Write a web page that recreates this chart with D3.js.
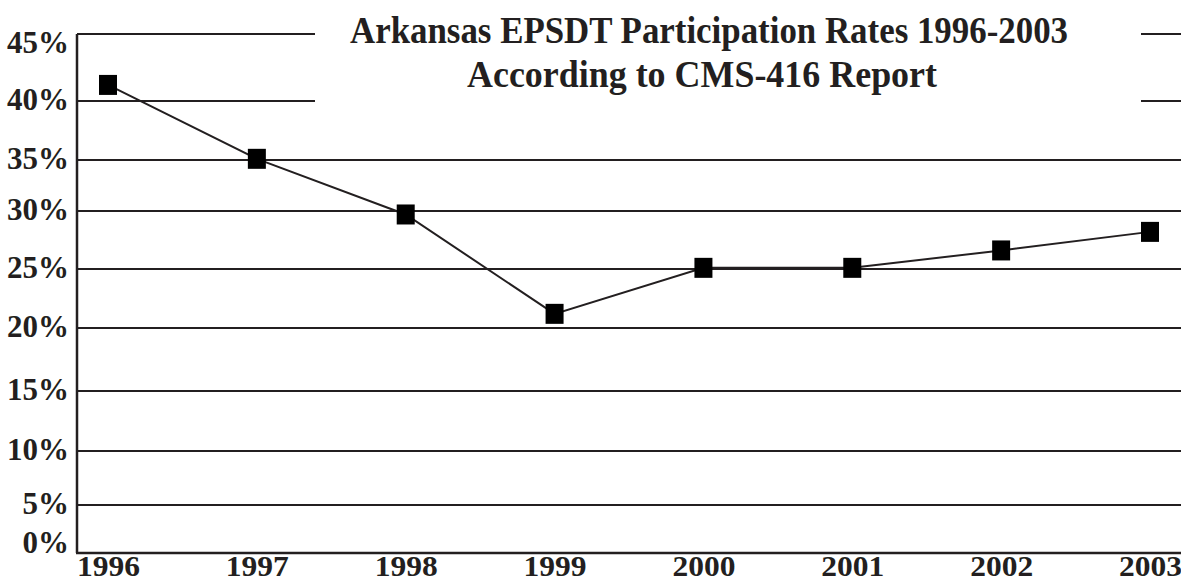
<!DOCTYPE html>
<html>
<head>
<meta charset="utf-8">
<script src="https://cdn.jsdelivr.net/npm/d3@7"></script>
<style>
  html, body { margin: 0; padding: 0; background: #fff; }
  svg { display: block; }
  text { font-family: "Liberation Serif", "Times New Roman", serif; font-weight: bold; fill: #231f20; }
</style>
</head>
<body>
<svg id="chart" width="1181" height="582"></svg>
<script>
// Arkansas EPSDT participation rates (percent), CMS-416
const years = ["1996", "1997", "1998", "1999", "2000", "2001", "2002", "2003"];
const rates = [41.2, 35.1, 29.7, 21.2, 25.1, 25.1, 26.6, 28.2];
const yTicks = [0, 5, 10, 15, 20, 25, 30, 35, 40, 45];
const titleLines = ["Arkansas EPSDT Participation Rates 1996-2003", "According to CMS-416 Report"];

// Layout: the printed grid is spaced by hand, so the y scale is piecewise
// linear through the rule positions of each 5% band.
const W = 1181, H = 582;
const axisX = 77, rightX = W;
const gridStops = [553, 505, 451, 391, 328, 269, 211, 160, 101, 34];
const ink = "#231f20";

const svg = d3.select("#chart");

const x = d3.scalePoint().domain(years).range([108, 1150]).padding(0);
const y = d3.scaleLinear().domain(yTicks).range(gridStops);

// Horizontal rules at every 5%
svg.append("g").selectAll("line")
  .data(yTicks.filter(t => t > 0))
  .join("line")
  .attr("x1", axisX).attr("x2", rightX)
  .attr("y1", d => y(d)).attr("y2", d => y(d))
  .attr("stroke", ink).attr("stroke-width", 2);

// Title panel sits over the top two rules
const title = svg.append("g");
title.append("rect")
  .attr("x", 315).attr("y", 18)
  .attr("width", 1141 - 315).attr("height", 100)
  .attr("fill", "#fff");
const titleSpecs = [
  { x: 350, baseline: 43, len: 718 },
  { x: 467, baseline: 87, len: 470 }
];
title.selectAll("text")
  .data(titleLines)
  .join("text")
  .attr("x", (d, i) => titleSpecs[i].x)
  .attr("y", (d, i) => titleSpecs[i].baseline)
  .attr("font-size", 38)
  .attr("textLength", (d, i) => titleSpecs[i].len)
  .attr("lengthAdjust", "spacingAndGlyphs")
  .text(d => d);

// Left axis and base line
svg.append("line")
  .attr("x1", axisX).attr("x2", axisX)
  .attr("y1", y(45)).attr("y2", y(0))
  .attr("stroke", ink).attr("stroke-width", 2.5);
svg.append("line")
  .attr("x1", axisX - 1).attr("x2", rightX)
  .attr("y1", y(0)).attr("y2", y(0))
  .attr("stroke", ink).attr("stroke-width", 2.5);

// Percent labels on the left
svg.append("g").selectAll("text")
  .data(yTicks)
  .join("text")
  .attr("x", 69)
  .attr("y", d => Math.min(Math.max(y(d) + 9, y(45) + 19), y(0)))
  .attr("text-anchor", "end")
  .attr("font-size", 31)
  .text(d => d + "%");

// Year labels under the base line
const xAxis = svg.append("g")
  .attr("transform", `translate(0,${y(0)})`)
  .call(d3.axisBottom(x).tickSize(0).tickPadding(2));
xAxis.select(".domain").remove();
xAxis.attr("font-family", null).attr("font-size", null);
xAxis.selectAll("text")
  .attr("font-size", 29)
  .attr("textLength", 63)
  .attr("lengthAdjust", "spacingAndGlyphs")
  .attr("fill", ink);

// Series line and square markers
svg.append("path")
  .datum(rates)
  .attr("fill", "none")
  .attr("stroke", ink)
  .attr("stroke-width", 2)
  .attr("d", d3.line().x((d, i) => x(years[i])).y(d => y(d)));

const mw = 18, mh = 20;
svg.append("g").selectAll("rect")
  .data(rates)
  .join("rect")
  .attr("x", (d, i) => x(years[i]) - mw / 2)
  .attr("y", d => y(d) - mh / 2)
  .attr("width", mw).attr("height", mh)
  .attr("fill", "#000");
</script>
</body>
</html>
